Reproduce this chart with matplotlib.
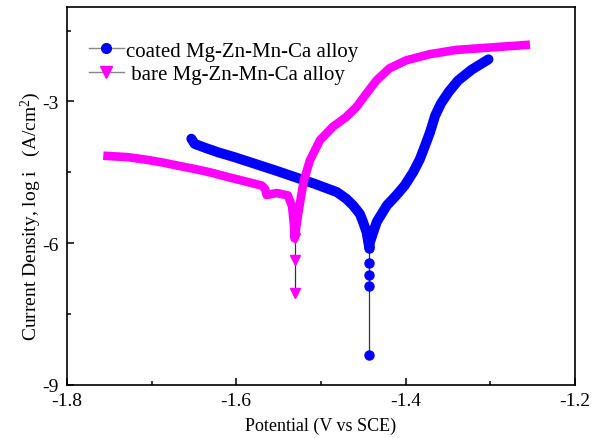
import matplotlib
matplotlib.use("Agg")
import matplotlib.pyplot as plt
from matplotlib.lines import Line2D
from matplotlib.ticker import MultipleLocator

plt.rcParams['font.family'] = ['Liberation Serif', 'DejaVu Serif']
plt.rcParams['mathtext.fontset'] = 'custom'
plt.rcParams['mathtext.rm'] = 'Liberation Serif'
plt.rcParams['mathtext.it'] = 'Liberation Serif:italic'

# coated Mg-Zn-Mn-Ca alloy (dense part of the curve)
coated_E = [-1.653, -1.649, -1.637, -1.621, -1.602, -1.578, -1.554, -1.531, -1.508,
            -1.481, -1.470, -1.462, -1.454, -1.450, -1.446, -1.444, -1.443,
            -1.442, -1.434, -1.422, -1.411, -1.401, -1.391, -1.383, -1.377,
            -1.371, -1.365, -1.358, -1.349, -1.338, -1.322, -1.302]
coated_logi = [-3.79, -3.90, -3.98, -4.08, -4.18, -4.32, -4.46, -4.60, -4.74,
               -4.92, -5.06, -5.20, -5.38, -5.56, -5.77, -5.98, -6.08,
               -5.98, -5.55, -5.20, -4.99, -4.78, -4.50, -4.22, -3.94,
               -3.65, -3.30, -3.04, -2.80, -2.56, -2.33, -2.11]
# sparse points near the corrosion potential
coated_tail_E = [-1.443, -1.443, -1.443, -1.443, -1.443, -1.443]
coated_tail_logi = [-6.05, -6.11, -6.43, -6.67, -6.91, -8.36]

# bare Mg-Zn-Mn-Ca alloy
bare_E = [-1.757, -1.728, -1.708, -1.688, -1.669, -1.649, -1.629, -1.610, -1.590,
          -1.570, -1.566, -1.564, -1.552, -1.539, -1.534, -1.532, -1.531,
          -1.526, -1.522, -1.520, -1.513, -1.501, -1.486, -1.470, -1.458,
          -1.446, -1.434, -1.419, -1.399, -1.371, -1.340, -1.300, -1.253]
bare_logi = [-4.15, -4.18, -4.23, -4.29, -4.36, -4.43, -4.51, -4.60, -4.69,
             -4.78, -4.85, -4.98, -4.94, -4.99, -5.22, -5.57, -5.90,
             -5.29, -4.87, -4.67, -4.25, -3.82, -3.54, -3.33, -3.12,
             -2.83, -2.55, -2.30, -2.13, -2.00, -1.91, -1.86, -1.80]
bare_tail_E = [-1.531, -1.531, -1.531]
bare_tail_logi = [-5.90, -6.36, -7.06]

labels = ['coated Mg-Zn-Mn-Ca alloy', ' bare Mg-Zn-Mn-Ca alloy']

fig = plt.figure(figsize=(5.92, 4.39), dpi=100)
ax = fig.add_axes([0.113, 0.121, 0.858, 0.861])

# tails (thin line + separate markers)
ax.plot(coated_tail_E, coated_tail_logi, color='#333333', lw=0.9, marker='o',
        ms=6.5, mfc='#0000FF', mec='#0000FF', zorder=2)
ax.plot(bare_tail_E, bare_tail_logi, color='#333333', lw=0.9, marker='v',
        ms=7, mfc='#FF00FF', mec='#FF00FF', zorder=2)

# dense bands of overlapping markers
ax.plot(coated_E, coated_logi, color='#0000FF', lw=7.2, solid_capstyle='round',
        solid_joinstyle='round', zorder=3)
ax.plot(bare_E, bare_logi, color='#FF00FF', lw=6.2, solid_capstyle='butt',
        solid_joinstyle='round', zorder=4)

ax.set_xlim(-1.8, -1.2)
ax.set_ylim(-9, -1)
ax.xaxis.set_minor_locator(MultipleLocator(0.1))
ax.yaxis.set_minor_locator(MultipleLocator(1.5))
ax.set_xticks([-1.8, -1.6, -1.4, -1.2])
ax.set_xticklabels(['-1.8', '-1.6', '-1.4', '-1.2'])
ax.set_yticks([-9, -6, -3])
ax.set_yticklabels(['-9', '-6', '-3'])

ax.tick_params(which='both', direction='in', top=False, right=False, labelsize=14)
ax.tick_params(which='major', length=5, width=1.1)
ax.tick_params(which='minor', length=3, width=1.1)
ax.tick_params(axis='x', pad=5)
ax.tick_params(axis='y', pad=6)
for s in ax.spines.values():
    s.set_linewidth(1.2)

ax.set_xlabel('Potential (V vs SCE)', fontsize=13, labelpad=6)
ax.set_ylabel('Current Density, log i   (A/cm$^2$)', fontsize=14)
ax.yaxis.set_label_coords(-0.047, 0.45)

h1 = Line2D([], [], color='#888888', lw=1, marker='o', ms=7, mfc='#0000FF', mec='#0000FF')
h2 = Line2D([], [], color='#888888', lw=1, marker='v', ms=8, mfc='#FF00FF', mec='#FF00FF')
ax.legend([h1, h2], labels, loc='upper left', bbox_to_anchor=(0.043, 0.91),
          frameon=False, fontsize=15, handlelength=1.7, handletextpad=0.1,
          labelspacing=0.2, borderaxespad=0, borderpad=0, numpoints=1)

fig.savefig('out.png', dpi=100)
